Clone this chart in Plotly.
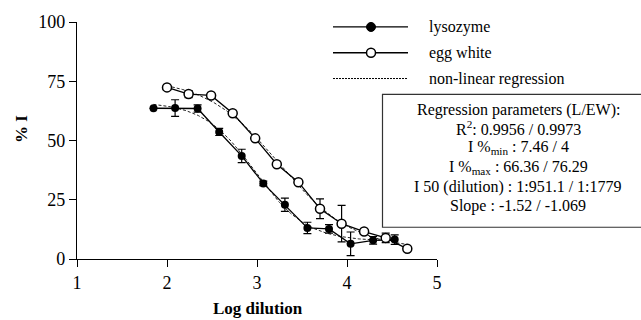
import numpy as np
import plotly.graph_objects as go

# ---- data ----
lys_x = [1.85, 2.09, 2.34, 2.58, 2.83, 3.07, 3.31, 3.56, 3.80, 4.04, 4.29, 4.53]
lys_y = [63.6, 63.7, 63.5, 53.6, 43.5, 31.9, 22.9, 13.1, 12.7, 6.4, 7.9, 8.2]
lys_err = [0, 3.5, 1.5, 1.5, 2.8, 1.0, 2.8, 2.4, 1.8, 5.0, 1.6, 2.0]

egg_x = [2.00, 2.24, 2.49, 2.73, 2.98, 3.22, 3.46, 3.70, 3.94, 4.19, 4.43, 4.67]
egg_y = [72.4, 69.6, 69.0, 61.5, 50.9, 40.0, 32.4, 21.2, 14.9, 11.6, 8.9, 4.3]
egg_err = [0, 1.5, 0, 0, 0, 0, 0, 4.2, 7.7, 0, 2.0, 0]

# regression parameters shown in the chart (L / EW)
lys_params = dict(bottom=7.46, top=66.36, ic50=951.1, slope=-1.52)
egg_params = dict(bottom=4.0, top=76.29, ic50=1779.0, slope=-1.069)

x_ticks = [1, 2, 3, 4, 5]
y_ticks = [0, 25, 50, 75, 100]

box_lines = [
    "Regression parameters (L/EW):",
    "R<sup>2</sup>: 0.9956 / 0.9973",
    "I %<sub>min</sub> : 7.46 / 4",
    "I %<sub>max</sub> : 66.36 / 76.29",
    "I 50 (dilution) : 1:951.1 / 1:1779",
    "Slope : -1.52 / -1.069",
]
legend_labels = ["lysozyme", "egg white", "non-linear regression"]

FONT = "Liberation Serif"


def logistic(x, p):
    x = np.asarray(x)
    return p["bottom"] + (p["top"] - p["bottom"]) / (
        1 + 10 ** ((np.log10(p["ic50"]) - x) * p["slope"]))


fig = go.Figure()

# regression curves
for xs, p in [(lys_x, lys_params), (egg_x, egg_params)]:
    xx = np.linspace(min(xs), max(xs), 200)
    fig.add_trace(go.Scatter(
        x=xx, y=logistic(xx, p), mode="lines",
        line=dict(color="#222", width=1, dash="3px,2px"),
        hoverinfo="skip", showlegend=False, cliponaxis=False))

# data series
fig.add_trace(go.Scatter(
    x=lys_x, y=lys_y, mode="lines+markers",
    line=dict(color="black", width=1.3),
    marker=dict(symbol="circle", size=8, color="black"),
    error_y=dict(type="data", array=lys_err, color="black", thickness=1.2, width=4),
    showlegend=False, cliponaxis=False))
fig.add_trace(go.Scatter(
    x=egg_x, y=egg_y, mode="lines+markers",
    line=dict(color="black", width=1.3),
    marker=dict(symbol="circle", size=9, color="white",
                line=dict(color="black", width=1.5)),
    error_y=dict(type="data", array=egg_err, color="black", thickness=1.2, width=4),
    showlegend=False, cliponaxis=False))

L, R, T, B = 77, 204, 20, 61
W, H = 641, 320
PW, PH = W - L - R, H - T - B


def px_x(p):
    return (p - L) / PW


def px_y(p):
    return (H - B - p) / PH


shapes = []
annotations = []

# manual legend
rows = [25, 51, 77]
for i, (yy, lab) in enumerate(zip(rows, legend_labels)):
    dash = "solid" if i < 2 else "2px,1px"
    shapes.append(dict(type="line", xref="paper", yref="paper",
                       x0=px_x(333), x1=px_x(408), y0=px_y(yy), y1=px_y(yy),
                       line=dict(color="black", width=1.3 if i < 2 else 1, dash=dash)))
    if i < 2:
        shapes.append(dict(type="circle", xref="paper", yref="paper",
                           xsizemode="pixel", ysizemode="pixel",
                           xanchor=px_x(371), yanchor=px_y(yy),
                           x0=-4.5, x1=4.5, y0=-4.5, y1=4.5,
                           fillcolor="black" if i == 0 else "white",
                           line=dict(color="black", width=1.5 if i else 1)))
    annotations.append(dict(xref="paper", yref="paper", x=px_x(427), y=px_y(yy),
                            xanchor="left", yanchor="middle", showarrow=False,
                            text=lab, font=dict(family=FONT, size=16, color="black")))

# regression parameter box
shapes.append(dict(type="rect", xref="paper", yref="paper",
                   x0=px_x(382.5), x1=px_x(660), y0=px_y(93), y1=px_y(227),
                   line=dict(color="#333", width=1.2), fillcolor="rgba(0,0,0,0)"))
for yy, txt in zip([108.5, 127, 147, 166.5, 186.5, 205.5], box_lines):
    annotations.append(dict(xref="paper", yref="paper", x=px_x(518), y=px_y(yy),
                            xanchor="center", yanchor="middle", showarrow=False,
                            text=txt, font=dict(family=FONT, size=16, color="black")))

# axis titles
annotations.append(dict(xref="paper", yref="paper", x=px_x(258), y=px_y(309),
                        xanchor="center", yanchor="middle", showarrow=False,
                        text="<b>Log dilution</b>",
                        font=dict(family=FONT, size=17, color="black")))
annotations.append(dict(xref="paper", yref="paper", x=px_x(21), y=px_y(128),
                        xanchor="center", yanchor="middle", showarrow=False,
                        textangle=-90, text="<b>% I</b>",
                        font=dict(family=FONT, size=17, color="black")))

axis_common = dict(showline=True, linecolor="black", linewidth=1.3,
                   ticks="outside", ticklen=7, tickwidth=1.3, tickcolor="black",
                   showgrid=False, zeroline=False,
                   tickfont=dict(family=FONT, size=18, color="black"))

fig.update_layout(
    width=W, height=H, autosize=False,
    margin=dict(l=L, r=R, t=T, b=B, pad=0),
    paper_bgcolor="white", plot_bgcolor="white",
    font=dict(family=FONT, color="black"),
    xaxis=dict(range=[1, 5], tickvals=x_ticks, **axis_common),
    yaxis=dict(range=[0, 100], tickvals=y_ticks, **axis_common),
    shapes=shapes, annotations=annotations,
    showlegend=False,
)

fig.write_html("out.html")
